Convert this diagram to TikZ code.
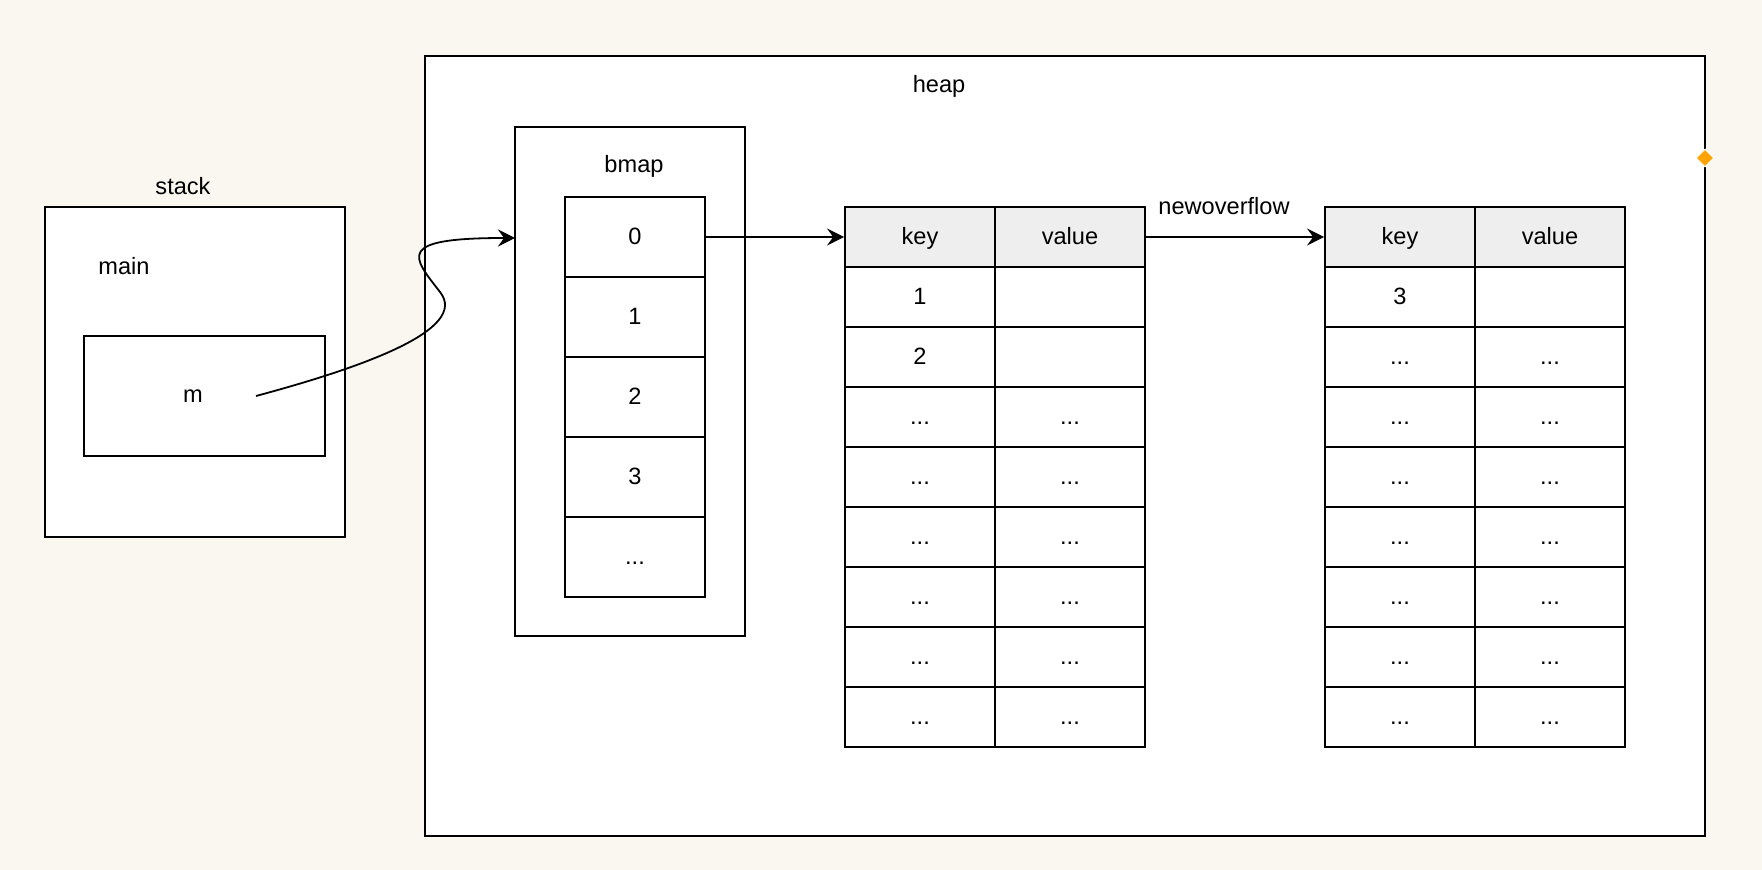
\documentclass[tikz,border=0pt]{standalone}
\usepackage{fontspec}
\setmainfont{Liberation Sans}
\usetikzlibrary{positioning, arrows.meta, shapes.geometric}
\definecolor{paper}{RGB}{249,247,240}
\definecolor{hdrgray}{RGB}{238,238,238}
\definecolor{marker}{RGB}{255,163,0}

\begin{document}
\begin{tikzpicture}[x=0.5pt,y=-0.5pt]
		\tikzstyle{frame} = [draw, line width=0.9pt, fill=white, inner sep=0]
		\tikzstyle{label} = [inner sep=0, font=\fontsize{11.8}{14}\selectfont]
		\tikzstyle{slot} = [draw, line width=0.9pt, fill=white, minimum width=70pt, minimum height=40pt, text height=8.4pt, text depth=1.2pt, font=\fontsize{11.8}{14}\selectfont]
		\tikzstyle{cell} = [draw, line width=0.9pt, fill=white, minimum width=75pt, minimum height=30pt, text height=8.4pt, text depth=1.2pt, font=\fontsize{11.8}{14}\selectfont]
		\tikzstyle{head} = [cell, fill=hdrgray]
		\tikzstyle{ptr} = [-{Stealth[length=8.5pt,width=8.5pt,inset=3pt]}, line width=0.9pt]
		\fill [paper] (0,0) rectangle (1762,870);
		% stack side
		\node [frame, minimum width=150pt, minimum height=165pt] (V_stack) at (195,372) {};
		\node [label] (v_stacklbl) at (183,186) {stack};
		\node [label] (v_mainlbl) at (124,266) {main};
		\node [frame, minimum width=120.5pt, minimum height=60pt] (V_mbox) at (204.5,396) {};
		\node [label] (v_mlbl) at (193,396) {m};
		% heap side
		\node [frame, minimum width=640pt, minimum height=390pt] (V_heap) at (1065,446) {};
		\node [label] (v_heaplbl) at (939,86) {heap};
		\node [diamond, fill=marker, draw=white, line width=0.5pt, inner sep=0, minimum size=9pt] (v_mark) at (1705,158) {};
		\node [frame, minimum width=115pt, minimum height=254.5pt] (V_bmap) at (630,381.5) {};
		\node [label] (v_bmaplbl) at (634,166) {bmap};
		\node [slot] (vb0) at (635,237) {0};
		\node [slot] (vb1) at (635,317) {1};
		\node [slot] (vb2) at (635,397) {2};
		\node [slot] (vb3) at (635,477) {3};
		\node [slot] (vb4) at (635,557) {...};
		% first bucket
		\node [head] (va_k0) at (920,237) {key};
		\node [head] (va_v0) at (1070,237) {value};
		\node [cell] (va_k1) at (920,297) {1};
		\node [cell] (va_v1) at (1070,297) {};
		\node [cell] (va_k2) at (920,357) {2};
		\node [cell] (va_v2) at (1070,357) {};
		\node [cell] (va_k3) at (920,417) {...};
		\node [cell] (va_v3) at (1070,417) {...};
		\node [cell] (va_k4) at (920,477) {...};
		\node [cell] (va_v4) at (1070,477) {...};
		\node [cell] (va_k5) at (920,537) {...};
		\node [cell] (va_v5) at (1070,537) {...};
		\node [cell] (va_k6) at (920,597) {...};
		\node [cell] (va_v6) at (1070,597) {...};
		\node [cell] (va_k7) at (920,657) {...};
		\node [cell] (va_v7) at (1070,657) {...};
		\node [cell] (va_k8) at (920,717) {...};
		\node [cell] (va_v8) at (1070,717) {...};
		% overflow bucket
		\node [head] (vc_k0) at (1400,237) {key};
		\node [head] (vc_v0) at (1550,237) {value};
		\node [cell] (vc_k1) at (1400,297) {3};
		\node [cell] (vc_v1) at (1550,297) {};
		\node [cell] (vc_k2) at (1400,357) {...};
		\node [cell] (vc_v2) at (1550,357) {...};
		\node [cell] (vc_k3) at (1400,417) {...};
		\node [cell] (vc_v3) at (1550,417) {...};
		\node [cell] (vc_k4) at (1400,477) {...};
		\node [cell] (vc_v4) at (1550,477) {...};
		\node [cell] (vc_k5) at (1400,537) {...};
		\node [cell] (vc_v5) at (1550,537) {...};
		\node [cell] (vc_k6) at (1400,597) {...};
		\node [cell] (vc_v6) at (1550,597) {...};
		\node [cell] (vc_k7) at (1400,657) {...};
		\node [cell] (vc_v7) at (1550,657) {...};
		\node [cell] (vc_k8) at (1400,717) {...};
		\node [cell] (vc_v8) at (1550,717) {...};
		\node [label] (v_ovflbl) at (1224,206) {newoverflow};
		% pointers
		\coordinate (v_mptr) at (256,396);
		\coordinate (v_bmapin) at (515,238);
		\draw [ptr] (v_mptr) .. controls (360,368) and (470,330) .. (440,292) .. controls (412,256) and (395,238) .. (v_bmapin);
		\draw [ptr] (vb0.east) -- (va_k0.west);
		\draw [ptr] (va_v0.east) -- (vc_k0.west);
\end{tikzpicture}
\end{document}
